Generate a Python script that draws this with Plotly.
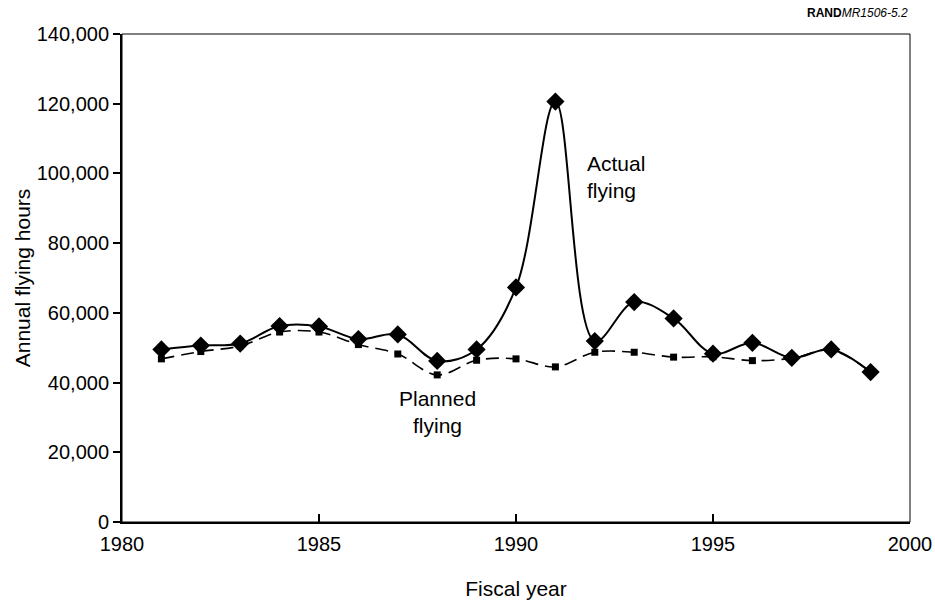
import plotly.graph_objects as go

# Fiscal years and annual flying hours
years = [1981, 1982, 1983, 1984, 1985, 1986, 1987, 1988, 1989, 1990,
         1991, 1992, 1993, 1994, 1995, 1996, 1997, 1998, 1999]
actual_hours = [49500, 50600, 51200, 56200, 56100, 52500, 53800, 46200, 49500, 67300,
                120600, 51900, 63100, 58400, 48300, 51400, 47100, 49500, 43000]
planned_hours = [46800, 48900, 50500, 54500, 54500, 50900, 48200, 42200, 46400, 46800,
                 44500, 48700, 48700, 47300, 47400, 46300, 47000, 49300, 43000]

FONT = "Arial, Liberation Sans, sans-serif"
FS = 21
TICK_FS = 20

fig = go.Figure()

# Planned flying (dashed, squares)
fig.add_trace(go.Scatter(
    x=years, y=planned_hours, mode='lines+markers', name='Planned flying',
    line=dict(color='black', width=1.6, dash='13px,7px', shape='spline', smoothing=1),
    marker=dict(symbol='square', size=7, color='black'),
))

# Actual flying (solid, diamonds)
fig.add_trace(go.Scatter(
    x=years, y=actual_hours, mode='lines+markers', name='Actual flying',
    line=dict(color='black', width=2, shape='spline', smoothing=1),
    marker=dict(symbol='diamond', size=14, color='black'),
))

# thin frame on top / right
fig.add_shape(type='rect', xref='paper', yref='paper', x0=0, y0=0, x1=1, y1=1,
              line=dict(color='black', width=1))

fig.add_annotation(x=1991.75, y=99000, text='Actual<br>flying', showarrow=False,
                   xanchor='left', align='left', font=dict(family=FONT, size=FS, color='black'))
fig.add_annotation(x=1988.0, y=31500, text='Planned<br>flying', showarrow=False,
                   xanchor='center', align='center', font=dict(family=FONT, size=FS, color='black'))

fig.add_annotation(xref='paper', yref='paper', x=1.0, y=1.0, yshift=21,
                   text='<b>RAND</b><i>MR1506-5.2</i>', showarrow=False,
                   xanchor='right', yanchor='middle', font=dict(family=FONT, size=12, color='black'))

fig.update_xaxes(
    range=[1980, 2000], tickvals=[1980, 1985, 1990, 1995, 2000], automargin=False,
    ticks='inside', ticklen=8, tickwidth=1.5, tickcolor='black', ticklabelstandoff=3,
    showline=True, linecolor='black', linewidth=2, showgrid=False, zeroline=False,
    tickfont=dict(family=FONT, size=TICK_FS, color='black'),
    title=dict(text='Fiscal year', font=dict(family=FONT, size=FS, color='black'), standoff=27),
)
fig.update_yaxes(
    range=[0, 140000], tickvals=[0, 20000, 40000, 60000, 80000, 100000, 120000, 140000],
    tickformat=',', ticks='outside', ticklen=7, tickwidth=1.5, tickcolor='black', automargin=False,
    showline=True, linecolor='black', linewidth=2, showgrid=False, zeroline=False,
    tickfont=dict(family=FONT, size=TICK_FS, color='black'),
    title=dict(text='Annual flying hours', font=dict(family=FONT, size=FS, color='black'), standoff=0),
)

fig.update_layout(
    width=935, height=603,
    margin=dict(l=122, r=25, t=34, b=81),
    plot_bgcolor='white', paper_bgcolor='white',
    showlegend=False,
)

# drop the browser's default 8px body margin so the figure fills the window
fig.write_html("out.html", config={'displayModeBar': False},
               post_script="document.body.style.margin='0';")
